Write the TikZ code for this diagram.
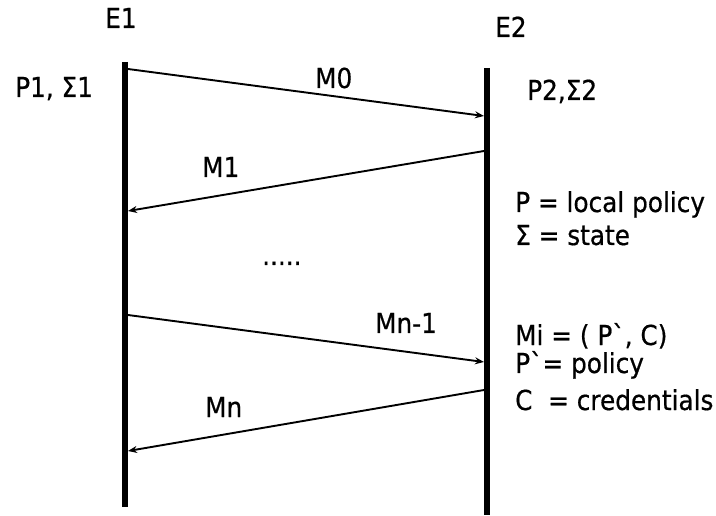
\documentclass[tikz,border=0pt]{standalone}
\usepackage{fontspec}
\newfontfamily\dvfont{DejaVu Sans}[FakeStretch=0.9,FakeBold=0.6]
\usetikzlibrary{arrows.meta}
\begin{document}
\begin{tikzpicture}[x=1pt,y=-1pt,
  lifeline/.style={line width=6.5pt},
  msg/.style={line width=1.9pt,-{Stealth[length=9pt,width=7pt]}},
  lbl/.style={anchor=base west,inner sep=0pt,font=\dvfont\fontsize{27.5}{30}\selectfont}]
\useasboundingbox (0,0) rectangle (716,516);
% lifelines
\coordinate (e1top) at (125,62);
\coordinate (e1bot) at (125,507);
\coordinate (e2top) at (487,68);
\coordinate (e2bot) at (487,515);
\draw[lifeline] (e1top) -- (e1bot);
\draw[lifeline] (e2top) -- (e2bot);
% message end points
\coordinate (m0s) at (128,69);
\coordinate (m0e) at (484,116);
\coordinate (m1s) at (484,151);
\coordinate (m1e) at (128,211);
\coordinate (mn1s) at (128,315);
\coordinate (mn1e) at (484,362);
\coordinate (mns) at (484,390);
\coordinate (mne) at (128,451);
\draw[msg] (m0s) -- (m0e);
\draw[msg] (m1s) -- (m1e);
\draw[msg] (mn1s) -- (mn1e);
\draw[msg] (mns) -- (mne);
% labels
\node[lbl] (E1) at (105,28) {E1};
\node[lbl] (E2) at (495,37) {E2};
\node[lbl] (P1) at (15,97) {P1, Σ1};
\node[lbl] (P2) at (527,100) {P2,Σ2};
\node[lbl] (M0) at (315,88) {M0};
\node[lbl] (M1) at (202,177) {M1};
\node[lbl] (dots) at (262,265) {.....};
\node[lbl] (Mn1) at (375,333) {Mn-1};
\node[lbl] (Mn) at (205,417) {Mn};
\node[lbl] (t1) at (515,212) {P = local policy};
\node[lbl] (t2) at (515,245) {Σ = state};
\node[lbl] (t3) at (515,345) {Mi = ( P`, C)};
\node[lbl] (t4) at (515,373) {P`= policy};
\node[lbl] (t5) at (515,410) {C\ \ = credentials};
\end{tikzpicture}
\end{document}
